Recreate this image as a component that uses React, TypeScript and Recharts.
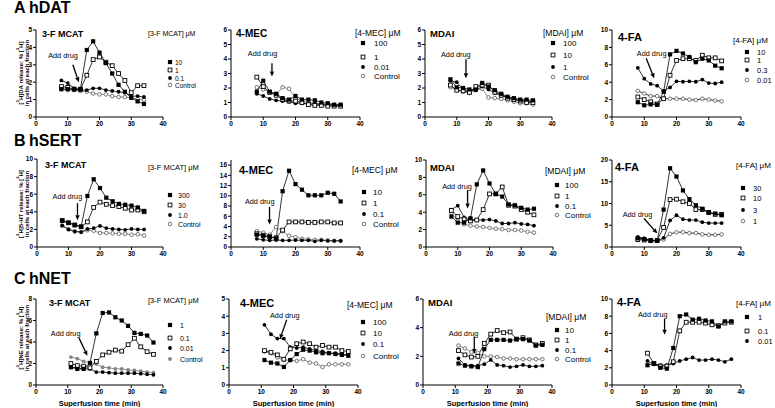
import React from 'react';
import { LineChart, Line, XAxis, YAxis, ReferenceLine, ReferenceDot } from 'recharts';

// sample times (min)
const timesAB = [8, 10, 12, 14, 16, 18, 20, 22, 24, 26, 28, 30, 32, 34];
const timesC = [11, 13, 15, 17, 19, 21, 23, 25, 27, 29, 31, 33, 35, 37];

// A: hDAT
const datMcat10 = [1.6, 1.6, 1.6, 1.6, 3.85, 4.35, 3.7, 3.1, 2.5, 1.85, 1.45, 1.1, 0.9, 0.75];
const datMcat1 = [1.75, 1.7, 1.6, 1.6, 2.4, 3.3, 3.45, 3.15, 2.95, 2.5, 2.1, 1.4, 1.8, 1.8];
const datMcat01 = [2.1, 1.95, 1.65, 1.55, 1.55, 1.65, 1.65, 1.55, 1.5, 1.45, 1.4, 1.2, 1.2, 1.15];
const datMcatCtl = [1.6, 1.55, 1.55, 1.5, 1.45, 1.35, 1.3, 1.3, 1.2, 1.15, 1.15, 1.1, 1.05, 1.0];

const datMec100 = [1.75, 2.5, 1.75, 1.6, 1.3, 1.2, 1.45, 1.2, 1.2, 1.15, 1.0, 0.95, 0.85, 0.85];
const datMec1 = [2.75, 2.1, 1.7, 1.5, 1.2, 1.1, 1.1, 1.0, 0.85, 0.8, 0.8, 0.75, 0.75, 0.75];
const datMec001 = [1.6, 1.45, 1.25, 1.15, 1.1, 1.05, 0.95, 0.95, 0.9, 0.9, 0.85, 0.85, 0.8, 0.8];
const datMecCtl = [2.05, 1.9, 1.7, 1.55, 2.05, 1.95, 1.3, 1.1, 1.0, 0.95, 0.9, 0.85, 0.8, 0.75];

const datMdai100 = [2.6, 2.05, 2.0, 1.9, 1.9, 2.35, 2.1, 1.85, 1.6, 1.4, 1.3, 1.2, 1.2, 1.15];
const datMdai10 = [2.2, 1.85, 1.8, 1.7, 2.1, 2.2, 2.2, 1.7, 1.5, 1.3, 1.2, 1.1, 1.0, 1.0];
const datMdai1 = [2.5, 2.4, 1.9, 1.8, 1.85, 2.1, 1.9, 1.65, 1.5, 1.35, 1.2, 1.15, 1.1, 1.05];
const datMdaiCtl = [2.05, 1.85, 1.75, 1.65, 1.85, 1.95, 1.35, 1.3, 1.25, 1.15, 1.05, 0.95, 0.95, 0.85];

const datFa10 = [1.7, 1.35, 1.45, 1.4, 2.9, 7.2, 7.6, 7.3, 6.9, 6.3, 6.7, 6.5, 5.9, 5.6];
const datFa1 = [2.3, 2.0, 1.75, 1.5, 2.1, 4.8, 6.5, 6.7, 6.7, 6.5, 7.1, 6.8, 6.8, 6.45];
const datFa03 = [5.65, 4.4, 3.8, 3.6, 3.0, 3.4, 4.1, 4.05, 4.1, 4.05, 4.3, 3.9, 3.85, 4.0];
const datFa001 = [3.0, 2.7, 2.4, 2.4, 2.1, 2.1, 2.1, 2.1, 2.0, 1.95, 2.1, 2.0, 1.9, 1.8];

// B: hSERT
const sertMcat300 = [3.0, 2.75, 2.5, 2.3, 5.8, 7.7, 6.7, 5.6, 5.2, 4.9, 4.8, 4.7, 4.5, 4.1];
const sertMcat30 = [3.0, 2.75, 2.5, 2.3, 2.85, 4.5, 5.1, 4.85, 4.7, 4.6, 4.4, 4.2, 4.2, 4.0];
const sertMcat10 = [2.45, 2.0, 1.75, 1.7, 2.05, 2.15, 2.4, 2.15, 2.05, 2.0, 1.95, 2.05, 2.0, 2.0];
const sertMcatCtl = [2.4, 2.0, 1.8, 1.7, 1.9, 1.85, 1.6, 1.6, 1.55, 1.5, 1.5, 1.4, 1.45, 1.3];

const sertMec10 = [2.4, 2.2, 2.0, 1.7, 10.9, 14.9, 12.3, 11.2, 10.1, 10.1, 10.1, 10.6, 10.4, 8.9];
const sertMec1 = [2.6, 2.3, 2.0, 1.8, 3.3, 4.9, 4.9, 4.9, 4.8, 4.8, 4.9, 4.9, 4.7, 4.7];
const sertMec01 = [1.6, 1.4, 1.3, 1.35, 1.3, 1.3, 1.35, 1.3, 1.3, 1.1, 1.3, 1.2, 1.2, 1.2];
const sertMecCtl = [3.1, 2.8, 2.4, 3.9, 3.1, 2.2, 1.9, 1.6, 1.5, 1.4, 1.4, 1.3, 1.2, 1.2];

const sertMdai100 = [3.5, 2.8, 2.8, 3.3, 7.2, 8.8, 7.3, 6.1, 5.8, 4.9, 4.8, 4.5, 4.3, 4.4];
const sertMdai1 = [4.2, 3.5, 3.2, 3.0, 3.1, 4.3, 6.1, 6.1, 6.9, 4.8, 4.7, 4.3, 4.0, 3.7];
const sertMdai01 = [4.3, 4.75, 3.4, 3.2, 3.1, 3.1, 3.15, 3.0, 2.7, 2.7, 2.8, 2.65, 2.6, 2.45];
const sertMdaiCtl = [3.9, 3.0, 2.6, 2.45, 2.35, 2.3, 2.2, 2.1, 2.05, 1.95, 1.95, 1.9, 1.75, 1.65];

const sertFa30 = [2.0, 1.8, 1.4, 1.4, 8.6, 18.1, 16.2, 13.0, 11.0, 9.6, 8.8, 8.0, 7.7, 7.3];
const sertFa10 = [1.7, 1.6, 1.5, 1.5, 4.5, 10.9, 11.0, 10.4, 10.0, 8.6, 8.6, 7.9, 7.5, 7.5];
const sertFa3 = [2.3, 2.0, 1.5, 1.4, 2.1, 6.1, 7.3, 6.4, 6.2, 6.2, 5.7, 5.5, 5.5, 5.5];
const sertFa1 = [2.0, 1.9, 1.6, 1.5, 1.7, 3.0, 3.4, 3.4, 3.2, 3.2, 2.9, 2.8, 2.8, 2.9];

// C: hNET
const netMcat1 = [1.65, 1.5, 1.5, 2.05, 4.8, 6.7, 6.75, 6.3, 6.0, 5.5, 4.85, 4.75, 4.6, 3.95];
const netMcat01 = [2.0, 1.8, 1.75, 1.6, 2.2, 2.8, 3.05, 3.25, 3.15, 3.75, 4.35, 3.55, 3.1, 2.85];
const netMcat001 = [1.65, 1.6, 1.5, 1.5, 1.2, 1.2, 1.15, 1.1, 1.1, 1.1, 1.1, 1.05, 1.0, 0.95];
const netMcatCtl = [2.6, 2.45, 2.2, 2.1, 1.95, 1.65, 1.6, 1.5, 1.5, 1.4, 1.35, 1.3, 1.2, 1.15];

const netMec100 = [1.45, 1.3, 1.25, 1.05, 1.45, 1.8, 2.05, 2.0, 1.9, 1.85, 1.85, 1.8, 1.75, 1.7];
const netMec10 = [2.0, 1.9, 1.75, 1.5, 2.1, 2.4, 2.5, 2.4, 2.2, 2.3, 2.2, 2.2, 2.0, 1.95];
const netMec01 = [3.5, 2.95, 2.7, 2.7, 2.2, 2.15, 2.2, 2.1, 2.0, 1.95, 1.85, 1.85, 1.8, 1.75];
const netMecCtl = [1.95, 1.85, 1.6, 1.45, 1.45, 1.4, 1.5, 1.3, 1.25, 1.05, 1.2, 1.2, 1.2, 1.2];

const netMdai10 = [1.5, 1.35, 1.3, 1.25, 2.5, 3.15, 3.15, 3.15, 3.1, 3.2, 3.2, 3.1, 2.75, 2.8];
const netMdai1 = [2.4, 2.1, 1.95, 2.0, 2.9, 3.55, 3.8, 3.65, 3.7, 3.2, 3.3, 3.15, 2.8, 2.9];
const netMdai01 = [1.85, 1.4, 1.35, 1.35, 1.45, 1.75, 1.4, 1.35, 1.25, 1.3, 1.4, 1.3, 1.3, 1.35];
const netMdaiCtl = [2.75, 2.55, 2.3, 2.25, 2.0, 2.0, 1.95, 1.85, 1.85, 1.8, 1.8, 1.8, 1.8, 1.8];

const netFa1 = [2.3, 2.5, 2.0, 1.9, 4.3, 8.0, 8.2, 7.6, 7.7, 7.5, 7.4, 6.8, 7.4, 7.4];
const netFa01 = [3.7, 2.5, 2.2, 2.2, 2.7, 6.3, 7.3, 7.3, 7.3, 7.2, 7.0, 6.9, 7.2, 7.3];
const netFa001 = [2.8, 2.4, 2.3, 2.3, 2.5, 2.8, 3.0, 3.2, 2.9, 2.9, 3.0, 2.9, 2.7, 3.0];

const xTicks = [0, 10, 20, 30, 40];

type Mark = 'fsq' | 'osq' | 'fci' | 'oci' | 'gci';
type Series = { name: string; values: number[]; mark: Mark };
type Pt = { x: number; y: number };
type PanelCfg = {
  id: string;
  times: number[];
  series: Series[];
  yMax: number;
  yTicks: number[];
  geo: { x0: number; x40: number; top: number; bottom: number };
  title: string;
  titlePos: [number, number, number];
  legendTitle: string;
  legend: { lx: number; ly: number; mx: number; tx: number; ys: number[]; fs: number };
  note: Pt;
  arrow: [Pt, Pt];
  xLabel?: boolean;
};

function MarkShape({ kind, cx, cy }: { kind: Mark; cx: number; cy: number }) {
  switch (kind) {
    case 'fsq':
      return <rect x={cx - 2.1} y={cy - 2.1} width={4.2} height={4.2} fill="#000" />;
    case 'osq':
      return <rect x={cx - 1.9} y={cy - 1.9} width={3.8} height={3.8} fill="#fff" stroke="#000" strokeWidth={0.9} />;
    case 'fci':
      return <circle cx={cx} cy={cy} r={1.9} fill="#000" />;
    case 'oci':
      return <circle cx={cx} cy={cy} r={1.8} fill="#fff" stroke="#555" strokeWidth={0.8} />;
    default:
      return <circle cx={cx} cy={cy} r={1.9} fill="#858585" />;
  }
}

const arrowShape = (p: any) => {
  const { x1, y1, x2, y2 } = p;
  const a = Math.atan2(y2 - y1, x2 - x1);
  const L = 5;
  const W = 2.2;
  const bx = x2 - L * Math.cos(a);
  const by = y2 - L * Math.sin(a);
  const pts = `${x2},${y2} ${bx - W * Math.sin(a)},${by + W * Math.cos(a)} ${bx + W * Math.sin(a)},${by - W * Math.cos(a)}`;
  return (
    <g>
      <line x1={x1} y1={y1} x2={bx} y2={by} stroke="#000" strokeWidth={1.3} />
      <polygon points={pts} fill="#000" />
    </g>
  );
};

const noteShape = (p: any) => (
  <text x={p.cx} y={p.cy} textAnchor="middle" dominantBaseline="central" fontSize={7.3} fill="#000">
    Add drug
  </text>
);

const panels: PanelCfg[] = [
  {
    id: 'a1', times: timesAB, yMax: 5, yTicks: [0, 1, 2, 3, 4, 5],
    series: [
      { name: '10', values: datMcat10, mark: 'fsq' },
      { name: '1', values: datMcat1, mark: 'osq' },
      { name: '0.1', values: datMcat01, mark: 'fci' },
      { name: 'Control', values: datMcatCtl, mark: 'oci' },
    ],
    geo: { x0: 36, x40: 163, top: 30, bottom: 117 },
    title: '3-F MCAT', titlePos: [42, 34, 9], legendTitle: '[3-F MCAT] μM',
    legend: { lx: 148, ly: 33, mx: 170, tx: 175, ys: [62, 70, 78, 85], fs: 7 },
    note: { x: 8.5, y: 3.56 }, arrow: [{ x: 11.6, y: 3.0 }, { x: 13.5, y: 2.0 }],
  },
  {
    id: 'a2', times: timesAB, yMax: 6, yTicks: [0, 1, 2, 3, 4, 5, 6],
    series: [
      { name: '100', values: datMec100, mark: 'fsq' },
      { name: '1', values: datMec1, mark: 'osq' },
      { name: '0.01', values: datMec001, mark: 'fci' },
      { name: 'Control', values: datMecCtl, mark: 'oci' },
    ],
    geo: { x0: 231, x40: 360, top: 30, bottom: 117 },
    title: '4-MEC', titlePos: [236, 33, 10], legendTitle: '[4-MEC] μM',
    legend: { lx: 355, ly: 33, mx: 363, tx: 374, ys: [43, 57, 67, 76], fs: 8.5 },
    note: { x: 9.8, y: 4.4 }, arrow: [{ x: 12.7, y: 3.7 }, { x: 12.7, y: 2.8 }],
  },
  {
    id: 'a3', times: timesAB, yMax: 6, yTicks: [0, 1, 2, 3, 4, 5, 6],
    series: [
      { name: '100', values: datMdai100, mark: 'fsq' },
      { name: '10', values: datMdai10, mark: 'osq' },
      { name: '1', values: datMdai1, mark: 'fci' },
      { name: 'Control', values: datMdaiCtl, mark: 'oci' },
    ],
    geo: { x0: 425, x40: 552, top: 30, bottom: 117 },
    title: 'MDAI', titlePos: [430, 33, 9.5], legendTitle: '[MDAI] μM',
    legend: { lx: 543, ly: 33, mx: 553, tx: 563, ys: [43, 55, 67, 77], fs: 8.5 },
    note: { x: 9.7, y: 4.28 }, arrow: [{ x: 12.9, y: 3.98 }, { x: 12.9, y: 2.67 }],
  },
  {
    id: 'a4', times: timesAB, yMax: 10, yTicks: [0, 2, 4, 6, 8, 10],
    series: [
      { name: '10', values: datFa10, mark: 'fsq' },
      { name: '1', values: datFa1, mark: 'osq' },
      { name: '0.3', values: datFa03, mark: 'fci' },
      { name: '0.01', values: datFa001, mark: 'oci' },
    ],
    geo: { x0: 612, x40: 741, top: 30, bottom: 117 },
    title: '4-FA', titlePos: [618, 37, 11], legendTitle: '[4-FA] μM',
    legend: { lx: 733, ly: 40, mx: 747, tx: 757, ys: [52, 60, 70, 80], fs: 8 },
    note: { x: 12.3, y: 7.3 }, arrow: [{ x: 10.6, y: 6.75 }, { x: 13.1, y: 4.45 }],
  },
  {
    id: 'b1', times: timesAB, yMax: 10, yTicks: [0, 2, 4, 6, 8, 10],
    series: [
      { name: '300', values: sertMcat300, mark: 'fsq' },
      { name: '30', values: sertMcat30, mark: 'osq' },
      { name: '1.0', values: sertMcat10, mark: 'fci' },
      { name: 'Control', values: sertMcatCtl, mark: 'oci' },
    ],
    geo: { x0: 37, x40: 163, top: 159, bottom: 247 },
    title: '3-F MCAT', titlePos: [45, 165, 9], legendTitle: '[3-F MCAT] μM',
    legend: { lx: 148, ly: 167, mx: 170, tx: 178, ys: [195, 205, 215, 224], fs: 7.5 },
    note: { x: 9.65, y: 5.72 }, arrow: [{ x: 12.85, y: 4.97 }, { x: 12.85, y: 3.05 }],
  },
  {
    id: 'b2', times: timesAB, yMax: 17, yTicks: [0, 2, 4, 6, 8, 10, 12, 14, 16],
    series: [
      { name: '10', values: sertMec10, mark: 'fsq' },
      { name: '1', values: sertMec1, mark: 'osq' },
      { name: '0.1', values: sertMec01, mark: 'fci' },
      { name: 'Control', values: sertMecCtl, mark: 'oci' },
    ],
    geo: { x0: 231, x40: 360, top: 160, bottom: 247 },
    title: '4-MEC', titlePos: [239, 170, 11], legendTitle: '[4-MEC] μM',
    legend: { lx: 352, ly: 170, mx: 364, tx: 373, ys: [192, 203, 214, 224], fs: 8.5 },
    note: { x: 8.9, y: 8.96 }, arrow: [{ x: 11.95, y: 7.84 }, { x: 11.95, y: 4.39 }],
  },
  {
    id: 'b3', times: timesAB, yMax: 10, yTicks: [0, 2, 4, 6, 8, 10],
    series: [
      { name: '100', values: sertMdai100, mark: 'fsq' },
      { name: '1', values: sertMdai1, mark: 'osq' },
      { name: '0.1', values: sertMdai01, mark: 'fci' },
      { name: 'Control', values: sertMdaiCtl, mark: 'oci' },
    ],
    geo: { x0: 426, x40: 553, top: 160, bottom: 247 },
    title: 'MDAI', titlePos: [430, 167, 9.5], legendTitle: '[MDAI] μM',
    legend: { lx: 545, ly: 171, mx: 557, tx: 565, ys: [185, 196, 206, 215], fs: 8.5 },
    note: { x: 9.76, y: 6.92 }, arrow: [{ x: 13.1, y: 6.54 }, { x: 13.1, y: 4.43 }],
  },
  {
    id: 'b4', times: timesAB, yMax: 20, yTicks: [0, 5, 10, 15, 20],
    series: [
      { name: '30', values: sertFa30, mark: 'fsq' },
      { name: '10', values: sertFa10, mark: 'osq' },
      { name: '3', values: sertFa3, mark: 'fci' },
      { name: '1', values: sertFa1, mark: 'oci' },
    ],
    geo: { x0: 612, x40: 741, top: 160, bottom: 247 },
    title: '4-FA', titlePos: [615, 167, 11], legendTitle: '[4-FA] μM',
    legend: { lx: 736, ly: 165, mx: 743, tx: 753, ys: [188, 198, 210, 221], fs: 8 },
    note: { x: 7.9, y: 7.54 }, arrow: [{ x: 9.94, y: 6.55 }, { x: 14.07, y: 3.09 }],
  },
  {
    id: 'c1', times: timesC, yMax: 8, yTicks: [0, 2, 4, 6, 8], xLabel: true,
    series: [
      { name: '1', values: netMcat1, mark: 'fsq' },
      { name: '0.1', values: netMcat01, mark: 'osq' },
      { name: '0.01', values: netMcat001, mark: 'fci' },
      { name: 'Control', values: netMcatCtl, mark: 'gci' },
    ],
    geo: { x0: 36, x40: 163, top: 299, bottom: 385 },
    title: '3-F MCAT', titlePos: [49, 303, 9], legendTitle: '[3-F MCAT] μM',
    legend: { lx: 148, ly: 300, mx: 170, tx: 180, ys: [325, 338, 348, 359], fs: 7.5 },
    note: { x: 9.34, y: 4.83 }, arrow: [{ x: 13.57, y: 4.36 }, { x: 16.17, y: 2.71 }],
  },
  {
    id: 'c2', times: timesC, yMax: 5, yTicks: [0, 1, 2, 3, 4, 5], xLabel: true,
    series: [
      { name: '100', values: netMec100, mark: 'fsq' },
      { name: '10', values: netMec10, mark: 'osq' },
      { name: '0.1', values: netMec01, mark: 'fci' },
      { name: 'Control', values: netMecCtl, mark: 'oci' },
    ],
    geo: { x0: 229, x40: 358, top: 299, bottom: 385 },
    title: '4-MEC', titlePos: [240, 303, 11], legendTitle: '[4-MEC] μM',
    legend: { lx: 347, ly: 305, mx: 363, tx: 373, ys: [322, 333, 344, 356], fs: 8.5 },
    note: { x: 17.3, y: 4.03 }, arrow: [{ x: 17.9, y: 3.79 }, { x: 15.8, y: 2.67 }],
  },
  {
    id: 'c3', times: timesC, yMax: 6, yTicks: [0, 2, 4, 6], xLabel: true,
    series: [
      { name: '10', values: netMdai10, mark: 'fsq' },
      { name: '1', values: netMdai1, mark: 'osq' },
      { name: '0.1', values: netMdai01, mark: 'fci' },
      { name: 'Control', values: netMdaiCtl, mark: 'oci' },
    ],
    geo: { x0: 423, x40: 552, top: 299, bottom: 385 },
    title: 'MDAI', titlePos: [428, 302, 9.5], legendTitle: '[MDAI] μM',
    legend: { lx: 546, ly: 317, mx: 557, tx: 565, ys: [330, 340, 350, 359], fs: 8.5 },
    note: { x: 12.6, y: 3.62 }, arrow: [{ x: 15.9, y: 3.38 }, { x: 15.9, y: 2.17 }],
  },
  {
    id: 'c4', times: timesC, yMax: 10, yTicks: [0, 2, 4, 6, 8, 10], xLabel: true,
    series: [
      { name: '1', values: netFa1, mark: 'fsq' },
      { name: '0.1', values: netFa01, mark: 'osq' },
      { name: '0.01', values: netFa001, mark: 'fci' },
    ],
    geo: { x0: 612, x40: 741, top: 299, bottom: 385 },
    title: '4-FA', titlePos: [617, 302, 11], legendTitle: '[4-FA] μM',
    legend: { lx: 736, ly: 303, mx: 747, tx: 758, ys: [317, 331, 341], fs: 8 },
    note: { x: 12.65, y: 8.17 }, arrow: [{ x: 16.3, y: 7.67 }, { x: 16.3, y: 5.83 }],
  },
];

const axisFont = { fontSize: 6.5, fill: '#000', fontWeight: 'bold' as const };

function Panel({ p }: { p: PanelCfg }) {
  const { x0, x40, top, bottom } = p.geo;
  const xH = p.xLabel ? 22 : 18;
  const w = x40 - x0 + 36;
  const h = bottom - top + 8 + xH;
  const data = p.times.map((t, i) => {
    const row: Record<string, number> = { t };
    p.series.forEach((s, j) => {
      row[`s${j}`] = s.values[i];
    });
    return row;
  });
  const order = p.series.map((s, j) => ({ s, j })).reverse();
  return (
    <div style={{ position: 'absolute', left: x0 - 30, top: top - 8 }}>
      <LineChart width={w} height={h} data={data} margin={{ top: 8, right: 6, left: 0, bottom: 0 }}>
        <XAxis
          type="number"
          dataKey="t"
          domain={[0, 40]}
          ticks={xTicks}
          interval={0}
          height={xH}
          tickSize={3}
          tickMargin={1}
          tick={axisFont}
          axisLine={{ stroke: '#000' }}
          tickLine={{ stroke: '#000' }}
          label={
            p.xLabel
              ? { value: 'Superfusion time (min)', position: 'insideBottom', offset: 1, fontSize: 7.5, fontWeight: 'bold', fill: '#000' }
              : undefined
          }
        />
        <YAxis
          type="number"
          domain={[0, p.yMax]}
          ticks={p.yTicks}
          interval={0}
          width={30}
          tickSize={3}
          tickMargin={1}
          tick={axisFont}
          axisLine={{ stroke: '#000' }}
          tickLine={{ stroke: '#000' }}
        />
        {order.map(({ s, j }) => (
          <Line
            key={s.name + j}
            type="linear"
            dataKey={`s${j}`}
            stroke={s.name === 'Control' ? '#707070' : '#000'}
            strokeWidth={0.8}
            isAnimationActive={false}
            dot={(d: any) => (
              <g key={`${p.id}-${j}-${d.index}`}>
                {d.cx != null && d.cy != null ? <MarkShape kind={s.mark} cx={d.cx} cy={d.cy} /> : null}
              </g>
            )}
            activeDot={false}
          />
        ))}
        <ReferenceLine segment={p.arrow} shape={arrowShape} />
        <ReferenceDot x={p.note.x} y={p.note.y} r={1} shape={noteShape} />
      </LineChart>
    </div>
  );
}

function Legend({ p }: { p: PanelCfg }) {
  const { lx, ly, mx, tx, ys, fs } = p.legend;
  return (
    <>
      <div style={{ position: 'absolute', left: lx, top: ly, transform: 'translateY(-50%)', fontSize: fs, whiteSpace: 'nowrap', color: '#000' }}>
        {p.legendTitle}
      </div>
      {p.series.map((s, i) => (
        <React.Fragment key={p.id + 'lg' + i}>
          <svg style={{ position: 'absolute', left: mx - 4, top: ys[i] - 4 }} width={8} height={8}>
            <MarkShape kind={s.mark} cx={4} cy={4} />
          </svg>
          <div style={{ position: 'absolute', left: tx, top: ys[i], transform: 'translateY(-50%)', fontSize: fs - 0.5, whiteSpace: 'nowrap', color: '#000' }}>
            {s.name}
          </div>
        </React.Fragment>
      ))}
    </>
  );
}

const supStyle: React.CSSProperties = { fontSize: '0.7em', verticalAlign: 'top', lineHeight: 0, position: 'relative', top: '-0.15em' };

function YLabel({ cx, cy, what }: { cx: number; cy: number; what: string }) {
  return (
    <div
      style={{
        position: 'absolute',
        left: cx,
        top: cy,
        transform: 'translate(-50%, -50%) rotate(-90deg)',
        fontSize: 6,
        fontWeight: 'bold',
        lineHeight: '5.5px',
        whiteSpace: 'nowrap',
        textAlign: 'center',
      }}
    >
      [<sup style={supStyle}>3</sup>H]{what} release: % [<sup style={supStyle}>3</sup>H]
      <br />
      in cells at each fraction
    </div>
  );
}

function RowLabel({ y, letter, name }: { y: number; letter: string; name: string }) {
  const st: React.CSSProperties = { position: 'absolute', top: y, transform: 'translateY(-50%)', fontSize: 16, fontWeight: 'bold', whiteSpace: 'nowrap' };
  return (
    <>
      <div style={{ ...st, left: 14 }}>{letter}</div>
      <div style={{ ...st, left: 29 }}>{name}</div>
    </>
  );
}

export default function App() {
  return (
    <div
      style={{
        position: 'absolute',
        left: 0,
        top: 0,
        width: 775,
        height: 408,
        overflow: 'hidden',
        background: '#fff',
        fontFamily: '"Liberation Sans", Arial, sans-serif',
        color: '#000',
      }}
    >
      <RowLabel y={8} letter="A" name="hDAT" />
      <RowLabel y={141} letter="B" name="hSERT" />
      <RowLabel y={279} letter="C" name="hNET" />
      <YLabel cx={24} cy={73} what="DA" />
      <YLabel cx={24} cy={204} what="5-HT" />
      <YLabel cx={24} cy={338} what="NE" />
      {panels.map((p) => (
        <Panel key={p.id} p={p} />
      ))}
      {panels.map((p) => (
        <div
          key={p.id + 't'}
          style={{ position: 'absolute', left: p.titlePos[0], top: p.titlePos[1], transform: 'translateY(-50%)', fontSize: p.titlePos[2], fontWeight: 'bold', whiteSpace: 'nowrap' }}
        >
          {p.title}
        </div>
      ))}
      {panels.map((p) => (
        <Legend key={p.id + 'l'} p={p} />
      ))}
    </div>
  );
}
